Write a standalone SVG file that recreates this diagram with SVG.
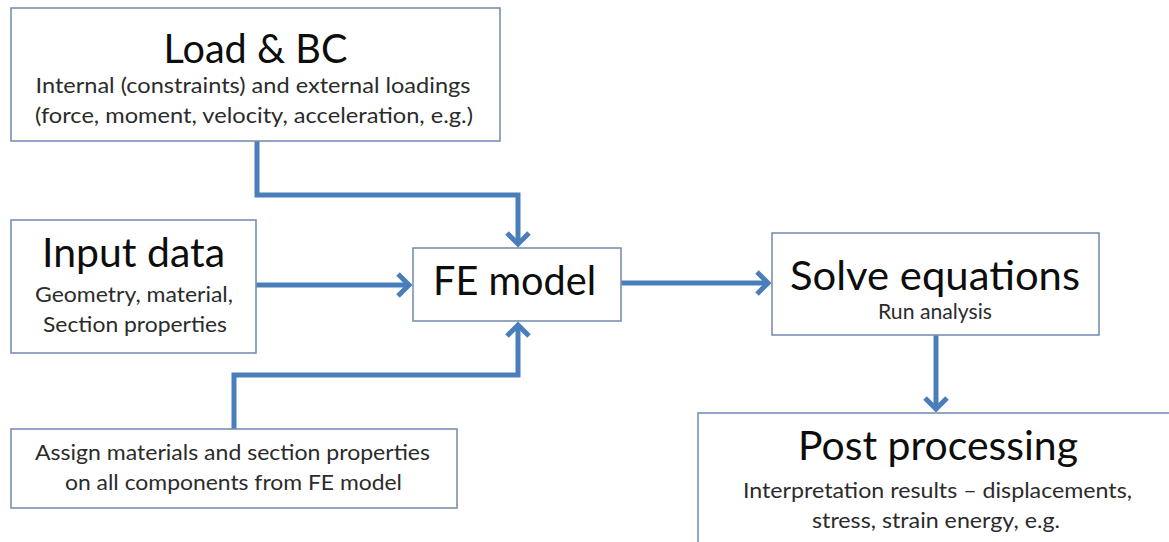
<svg xmlns="http://www.w3.org/2000/svg" width="1169" height="542" viewBox="0 0 1169 542">
  <style>
    .box { fill: #ffffff; stroke: #7a8fb3; stroke-width: 1.6; }
    .title { font-family: Lato, "Liberation Sans", sans-serif; font-size: 40px; fill: #0d0d0d; text-anchor: middle; }
    .sub { font-family: Lato, "Liberation Sans", sans-serif; font-size: 21px; fill: #2b2b2b; text-anchor: middle; }
    .conn { fill: none; stroke: #4a7ebb; stroke-width: 5; stroke-linejoin: miter; }
  </style>
  <defs>
    <marker id="arrow" markerUnits="userSpaceOnUse" markerWidth="30" markerHeight="30" viewBox="-15 -15 30 30" refX="0" refY="0" orient="auto" overflow="visible">
      <path d="M-11,-11 L0,0 L-11,11" fill="none" stroke="#4a7ebb" stroke-width="5" stroke-linejoin="miter"/>
    </marker>
  </defs>
  <rect width="1169" height="542" fill="#ffffff"/>

  <g id="connectors">
    <path class="conn" d="M257,141 V195 H518 V244" marker-end="url(#arrow)"/>
    <path class="conn" d="M256,285 H409" marker-end="url(#arrow)"/>
    <path class="conn" d="M234,429 V375 H518 V325" marker-end="url(#arrow)"/>
    <path class="conn" d="M621,283 H768" marker-end="url(#arrow)"/>
    <path class="conn" d="M936,335 V409" marker-end="url(#arrow)"/>
  </g>

  <g id="load-bc">
    <rect class="box" x="11" y="8" width="489" height="133"/>
    <text class="title" x="255.5" y="63" textLength="184" lengthAdjust="spacingAndGlyphs">Load &amp; BC</text>
    <text class="sub" x="253" y="93" textLength="435" lengthAdjust="spacingAndGlyphs">Internal (constraints) and external loadings</text>
    <text class="sub" x="254" y="123" textLength="438" lengthAdjust="spacingAndGlyphs">(force, moment, velocity, acceleration, e.g.)</text>
  </g>

  <g id="input-data">
    <rect class="box" x="11" y="220" width="245" height="133"/>
    <text class="title" x="133.5" y="267" textLength="183" lengthAdjust="spacingAndGlyphs">Input data</text>
    <text class="sub" x="134" y="302" textLength="198" lengthAdjust="spacingAndGlyphs">Geometry, material,</text>
    <text class="sub" x="135" y="332" textLength="184" lengthAdjust="spacingAndGlyphs">Section properties</text>
  </g>

  <g id="fe-model">
    <rect class="box" x="413" y="248" width="208" height="73"/>
    <text class="title" x="514.5" y="295" textLength="163" lengthAdjust="spacingAndGlyphs">FE model</text>
  </g>

  <g id="solve-equations">
    <rect class="box" x="772" y="233" width="327" height="102"/>
    <text class="title" x="935" y="290" textLength="290" lengthAdjust="spacingAndGlyphs">Solve equations</text>
    <text class="sub" x="935" y="319" textLength="114" lengthAdjust="spacingAndGlyphs">Run analysis</text>
  </g>

  <g id="post-processing">
    <rect class="box" x="698" y="413" width="490" height="150"/>
    <text class="title" x="938" y="460" textLength="280" lengthAdjust="spacingAndGlyphs">Post processing</text>
    <text class="sub" x="937.5" y="498" textLength="389" lengthAdjust="spacingAndGlyphs">Interpretation results – displacements,</text>
    <text class="sub" x="936" y="528" textLength="248" lengthAdjust="spacingAndGlyphs">stress, strain energy, e.g.</text>
  </g>

  <g id="assign-materials">
    <rect class="box" x="11" y="429" width="446" height="79"/>
    <text class="sub" x="232.5" y="460" textLength="395" lengthAdjust="spacingAndGlyphs">Assign materials and section properties</text>
    <text class="sub" x="233.5" y="490" textLength="337" lengthAdjust="spacingAndGlyphs">on all components from FE model</text>
  </g>
</svg>
